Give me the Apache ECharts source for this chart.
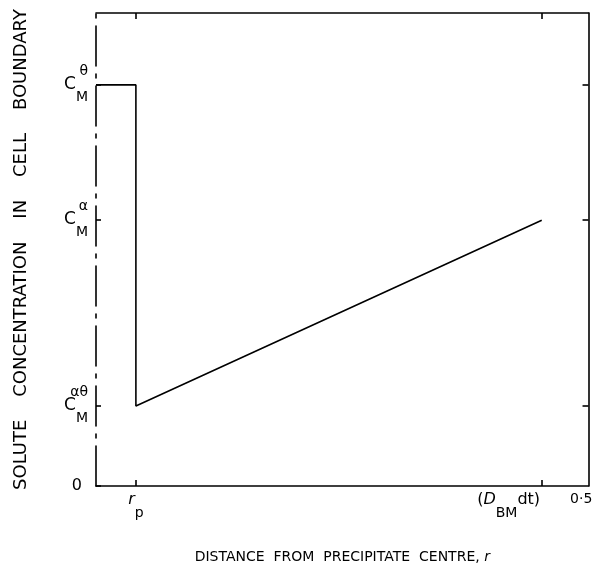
<!DOCTYPE html>
<html>
<head>
<meta charset="utf-8">
<script src="https://cdn.jsdelivr.net/npm/echarts@6/dist/echarts.min.js"></script>
<style>
html,body{margin:0;padding:0;background:#fff;}
#chart{width:604px;height:577px;}
</style>
</head>
<body>
<div id="chart"></div>
<script>
// tick positions (axis runs 0..1 in both directions)
var xTicks = [0.081, 0.905];
var xTickLabels = ['{ri|r}{sb|p}', '{t|(}{ri|D}{sb|BM}{t|dt)}{gap| }{e|0·5}{pad| }'];
var yTicks = [0, 0.169, 0.562, 0.848];
var yTickLabels = [
	'{n|0}',
	'{sp|αθ}\n{c|C}{sb|M}',
	'{sp|α}\n{c|C}{sb|M}',
	'{sp|θ}\n{c|C}{sb|M}'
];
// concentration profile
var profileX = [0, 0.081, 0.081, 0.905];
var profileY = [0.848, 0.848, 0.169, 0.562];

var font = 'DejaVu Sans';
var rich = {
	n: {fontSize: 16, fontFamily: font, color: '#000', padding: [0, 6, 0, 0]},
	c: {fontSize: 17, fontFamily: font, color: '#000', lineHeight: 28, verticalAlign: 'top'},
	sb: {fontSize: 14, fontFamily: font, color: '#000', lineHeight: 28, verticalAlign: 'bottom'},
	sp: {fontSize: 14, fontFamily: font, color: '#000', lineHeight: 10},
	ri: {fontSize: 16, fontFamily: font, fontStyle: 'italic', color: '#000', lineHeight: 24, verticalAlign: 'top'},
	t: {fontSize: 16, fontFamily: font, color: '#000', lineHeight: 24, verticalAlign: 'top'},
	e: {fontSize: 14, fontFamily: font, color: '#000', lineHeight: 24, verticalAlign: 'top'},
	gap: {width: 30},
	pad: {width: 14},
	nm: {fontSize: 14, fontFamily: font, color: '#000'},
	nmi: {fontSize: 14, fontFamily: font, fontStyle: 'italic', color: '#000'}
};

var points = [];
for (var i = 0; i < profileX.length; i++) points.push([profileX[i], profileY[i]]);

function labelFor(ticks, labels) {
	return function (v) {
		for (var i = 0; i < ticks.length; i++) {
			if (Math.abs(ticks[i] - v) < 1e-6) return labels[i];
		}
		return '';
	};
}

var black = {color: '#000', width: 1.6};
var chart = echarts.init(document.getElementById('chart'));
chart.setOption({
	animation: false,
	grid: {left: 96, top: 13, right: 15, bottom: 91},
	xAxis: [{
		type: 'value', min: 0, max: 1, position: 'bottom',
		splitLine: {show: false},
		axisLine: {onZero: false, lineStyle: black},
		axisTick: {inside: true, length: 6, customValues: xTicks, lineStyle: black},
		axisLabel: {customValues: xTicks, margin: 6, formatter: labelFor(xTicks, xTickLabels), rich: rich},
		name: '{nm|DISTANCE  FROM  PRECIPITATE  CENTRE, }{nmi|r}',
		nameLocation: 'middle', nameGap: 64,
		nameTextStyle: {fontSize: 14, fontFamily: font, color: '#000', rich: rich}
	}, {
		type: 'value', min: 0, max: 1, position: 'top',
		splitLine: {show: false},
		axisLine: {onZero: false, lineStyle: black},
		axisTick: {inside: true, length: 6, customValues: xTicks, lineStyle: black},
		axisLabel: {show: false}
	}],
	yAxis: [{
		type: 'value', min: 0, max: 1, position: 'left',
		splitLine: {show: false},
		axisLine: {onZero: false, lineStyle: {color: '#000', width: 1.6, type: [40, 8, 4, 8]}},
		axisTick: {inside: true, length: 5, customValues: yTicks, lineStyle: black},
		axisLabel: {customValues: yTicks, margin: 8, formatter: labelFor(yTicks, yTickLabels), rich: rich},
		name: 'SOLUTE    CONCENTRATION    IN    CELL    BOUNDARY',
		nameLocation: 'middle', nameGap: 66,
		nameTextStyle: {fontSize: 18, fontFamily: font, color: '#000'}
	}, {
		type: 'value', min: 0, max: 1, position: 'right',
		splitLine: {show: false},
		axisLine: {onZero: false, lineStyle: black},
		axisTick: {inside: true, length: 6, customValues: yTicks.slice(1), lineStyle: black},
		axisLabel: {show: false}
	}],
	series: [{
		type: 'line',
		data: points,
		showSymbol: false,
		lineStyle: {color: '#000', width: 1.6},
		itemStyle: {color: '#000'}
	}]
});
</script>
</body>
</html>
